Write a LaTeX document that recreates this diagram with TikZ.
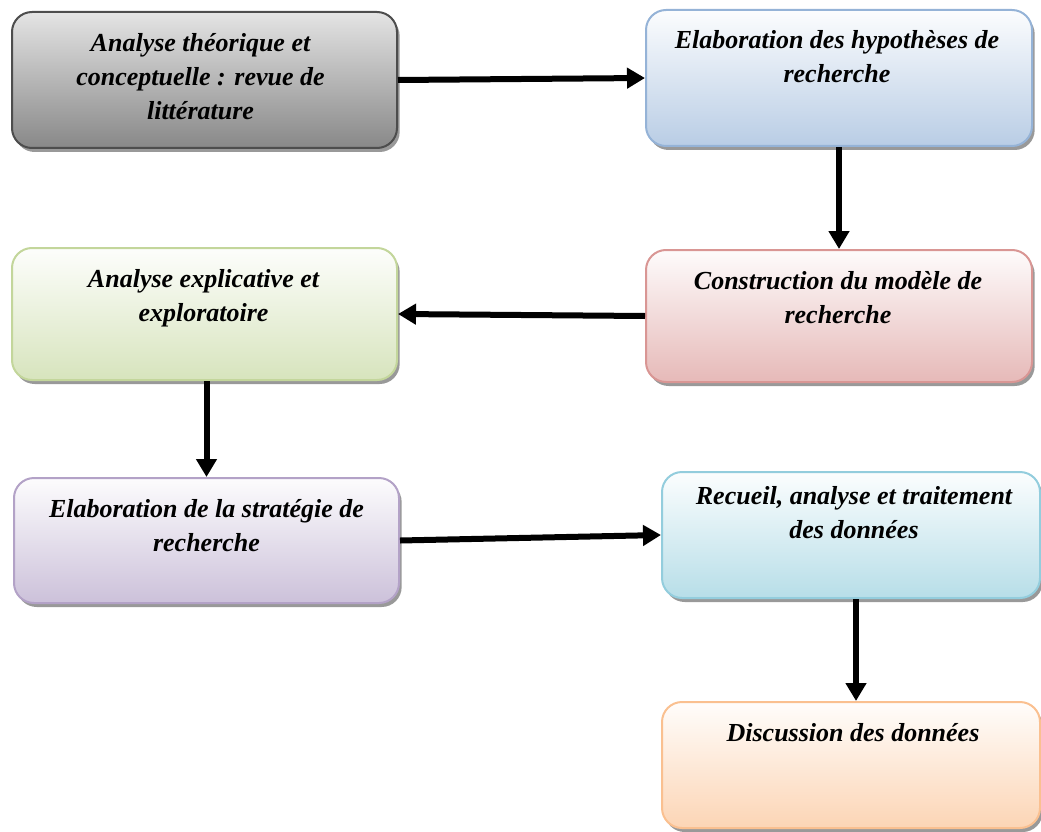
\documentclass[tikz,border=0pt]{standalone}
\usepackage{fontspec}
\setmainfont{Liberation Serif}
\usetikzlibrary{arrows.meta,shadows,calc}

\definecolor{grisbord}{HTML}{4D4D4D}
\definecolor{grishaut}{HTML}{E4E4E4}
\definecolor{grisbas}{HTML}{888888}
\definecolor{bleu}{HTML}{B9CDE5}
\definecolor{bleubord}{HTML}{95B3D7}
\definecolor{rouge}{HTML}{E6B9B8}
\definecolor{rougebord}{HTML}{D99694}
\definecolor{vert}{HTML}{D7E4BD}
\definecolor{vertbord}{HTML}{C3D69B}
\definecolor{violet}{HTML}{CCC1DA}
\definecolor{violetbord}{HTML}{B3A2C7}
\definecolor{cyan}{HTML}{B7DEE8}
\definecolor{cyanbord}{HTML}{93CDDD}
\definecolor{orange}{HTML}{FCD5B5}
\definecolor{orangebord}{HTML}{FAC090}

\tikzset{
  boite/.style={rectangle, rounded corners=15pt, line width=1.5pt,
    inner sep=0pt,
    drop shadow={shadow xshift=2pt, shadow yshift=-3pt, fill=black, opacity=0.4}},
  boitecouleur/.style 2 args={boite, draw=#2,
    top color=#1!5!white, middle color=#1!85!white, bottom color=#1},
  % base anchor of a multi-line label sits on its last line
  texte/.style={anchor=base, align=center, inner sep=0pt,
    font=\fontsize{19.5}{25.5}\selectfont\bfseries\itshape},
  fleche/.style={line width=4.5pt,
    -{Triangle[length=13.5pt,width=15pt]}},
}

\begin{document}
\begin{tikzpicture}[x=0.75pt, y=-0.75pt]
\useasboundingbox (0,0) rectangle (1041,831);

% boxes of the research process
\node[boite, draw=grisbord, top color=grishaut, bottom color=grisbas,
      minimum width=385*0.75pt, minimum height=136*0.75pt] (b1) at (204.5,80) {};
\node[boitecouleur={bleu}{bleubord},
      minimum width=386*0.75pt, minimum height=136*0.75pt] (b2) at (839,78) {};
\node[boitecouleur={rouge}{rougebord},
      minimum width=386*0.75pt, minimum height=132*0.75pt] (b3) at (839,316) {};
\node[boitecouleur={vert}{vertbord},
      minimum width=385*0.75pt, minimum height=132*0.75pt] (b4) at (204.5,314) {};
\node[boitecouleur={violet}{violetbord},
      minimum width=385*0.75pt, minimum height=125*0.75pt] (b5) at (206.5,540.5) {};
\node[boitecouleur={cyan}{cyanbord},
      minimum width=378*0.75pt, minimum height=126*0.75pt] (b6) at (851,535) {};
\node[boitecouleur={orange}{orangebord},
      minimum width=378*0.75pt, minimum height=126*0.75pt] (b7) at (851,765) {};

% labels (offset = first baseline + one line pitch per extra line)
\node[texte] (t1) at ($(b1.north)+(-4,41+68)$) {Analyse théorique et\\conceptuelle : revue de\\littérature};
\node[texte] (t2) at ($(b2.north)+(-2,40+34)$) {Elaboration des hypothèses de\\recherche};
\node[texte] (t3) at ($(b3.north)+(-1,40+34)$) {Construction du modèle de\\recherche};
\node[texte] (t4) at ($(b4.north)+(-1,40+34)$) {Analyse explicative et\\exploratoire};
\node[texte] (t5) at ($(b5.north)+(0,40+34)$) {Elaboration de la stratégie de\\recherche};
\node[texte] (t6) at ($(b6.north)+(3,33+34)$) {Recueil, analyse et traitement\\des données};
\node[texte] (t7) at ($(b7.north)+(2,40)$) {Discussion des données};

% connectors
\draw[fleche] (b1.east) -- (b2.west);
\draw[fleche] (b2.south) -- (b3.north);
\draw[fleche] (b3.west) -- (b4.east);
\draw[fleche] ($(b4.south)+(2,0)$) -- (b5.north);
\draw[fleche] (b5.east) -- (b6.west);
\draw[fleche] ($(b6.south)+(5,0)$) -- ($(b7.north)+(5,0)$);
\end{tikzpicture}
\end{document}
